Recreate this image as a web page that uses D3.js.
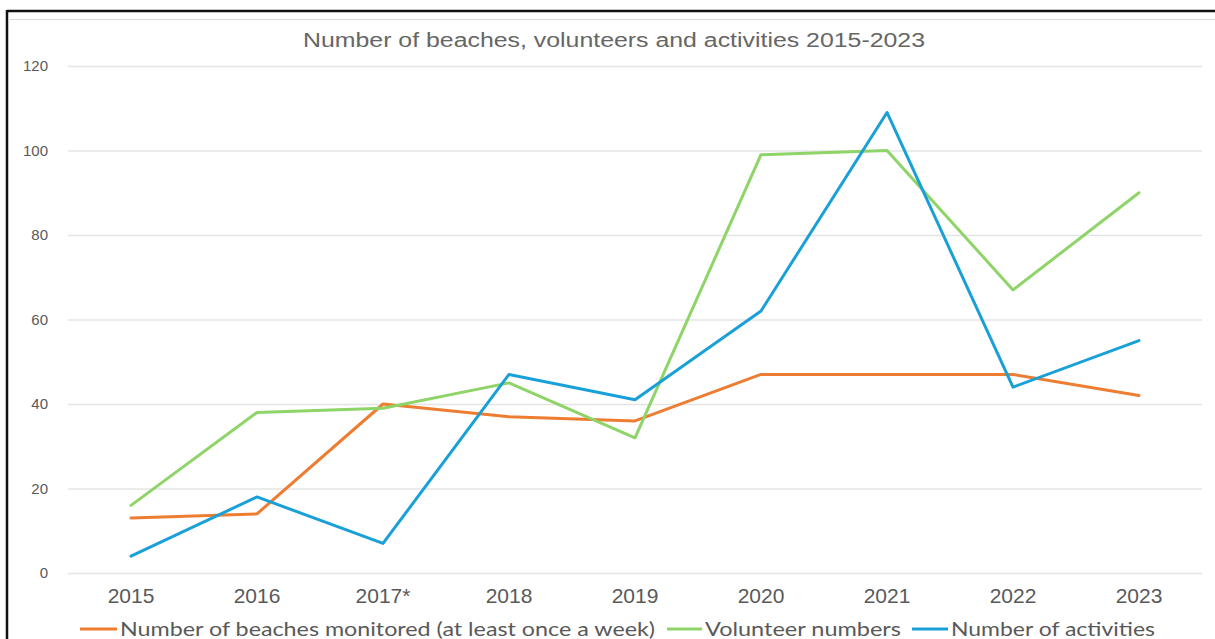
<!DOCTYPE html>
<html>
<head>
<meta charset="utf-8">
<script src="https://cdn.jsdelivr.net/npm/d3@7"></script>
<style>
  html, body { margin: 0; padding: 0; background: #fff; }
  svg { display: block; }
</style>
</head>
<body>
<svg id="chart" width="1215" height="639"></svg>
<script>
// Years shown along the horizontal axis
const years = ["2015", "2016", "2017*", "2018", "2019", "2020", "2021", "2022", "2023"];

// Series values per year
const beachesMonitored = [13, 14, 40, 37, 36, 47, 47, 47, 42];
const volunteerNumbers = [16, 38, 39, 45, 32, 99, 100, 67, 90];
const activityCounts   = [4, 18, 7, 47, 41, 62, 109, 44, 55];

// Vertical axis ticks
const yTicks = [0, 20, 40, 60, 80, 100, 120];

const seriesNames = [
  "Number of beaches monitored (at least once a week)",
  "Volunteer numbers",
  "Number of activities"
];
const seriesColors = ["#ed7d31", "#8fd468", "#1aa0d8"];
const seriesValues = [beachesMonitored, volunteerNumbers, activityCounts];

const svg = d3.select("#chart");
const W = 1215, H = 639;
const plot = { left: 68, right: 1202, top: 66, bottom: 573 };

// Outer frame
svg.append("line").attr("x1", 7).attr("x2", W).attr("y1", 11).attr("y2", 11)
  .attr("stroke", "#111").attr("stroke-width", 2.5);
svg.append("line").attr("x1", 7).attr("x2", 7).attr("y1", 10).attr("y2", H)
  .attr("stroke", "#111").attr("stroke-width", 2.5);
svg.append("line").attr("x1", 8).attr("x2", W).attr("y1", 19.5).attr("y2", 19.5)
  .attr("stroke", "#d9d9d9").attr("stroke-width", 1);

const x = d3.scaleBand().domain(years).range([plot.left, plot.right]);
const y = d3.scaleLinear().domain([0, 120]).range([plot.bottom, plot.top]);

// Gridlines and y labels
const yAxis = d3.axisLeft(y).tickValues(yTicks).tickSize(-(plot.right - plot.left)).tickPadding(20);
const gy = svg.append("g").attr("transform", `translate(${plot.left},0)`).call(yAxis);
gy.select(".domain").remove();
gy.selectAll(".tick line").attr("stroke", "#e4e4e4").attr("stroke-width", 1.3);
gy.selectAll(".tick text")
  .attr("font-family", "'Liberation Sans', Arial, sans-serif")
  .attr("font-size", 15).attr("fill", "#595959");

// X axis labels
const xAxis = d3.axisBottom(x).tickSize(0).tickPadding(15);
const gx = svg.append("g").attr("transform", `translate(0,${plot.bottom})`).call(xAxis);
gx.select(".domain").remove();
gx.selectAll(".tick text")
  .attr("font-family", "'Liberation Sans', Arial, sans-serif")
  .attr("font-size", 21).attr("fill", "#595959")
  .attr("dy", "0.71em");

// Series lines
const line = d3.line()
  .x((d, i) => x(years[i]) + x.bandwidth() / 2)
  .y(d => y(d));

seriesValues.forEach((vals, k) => {
  svg.append("path").datum(vals)
    .attr("d", line)
    .attr("fill", "none")
    .attr("stroke", seriesColors[k])
    .attr("stroke-width", 3)
    .attr("stroke-linejoin", "round")
    .attr("stroke-linecap", "round");
});

// Title
svg.append("text")
  .attr("x", 614).attr("y", 47)
  .attr("text-anchor", "middle")
  .attr("font-family", "'Liberation Sans', Arial, sans-serif")
  .attr("font-size", 19.5).attr("fill", "#666")
  .attr("textLength", 622).attr("lengthAdjust", "spacingAndGlyphs")
  .text("Number of beaches, volunteers and activities 2015-2023");

// Legend
const legendItems = [
  { x0: 80, x1: 117, tx: 120, tw: 535 },
  { x0: 667, x1: 702, tx: 705, tw: 196 },
  { x0: 912, x1: 948, tx: 951, tw: 204 }
];
const legendY = 629;
legendItems.forEach((it, k) => {
  svg.append("line")
    .attr("x1", it.x0).attr("x2", it.x1).attr("y1", legendY).attr("y2", legendY)
    .attr("stroke", seriesColors[k]).attr("stroke-width", 3);
  svg.append("text")
    .attr("x", it.tx).attr("y", legendY + 7)
    .attr("font-family", "Lato, 'Open Sans', sans-serif")
    .attr("font-size", 20).attr("fill", "#595959")
    .attr("textLength", it.tw).attr("lengthAdjust", "spacingAndGlyphs")
    .text(seriesNames[k]);
});
</script>
</body>
</html>
